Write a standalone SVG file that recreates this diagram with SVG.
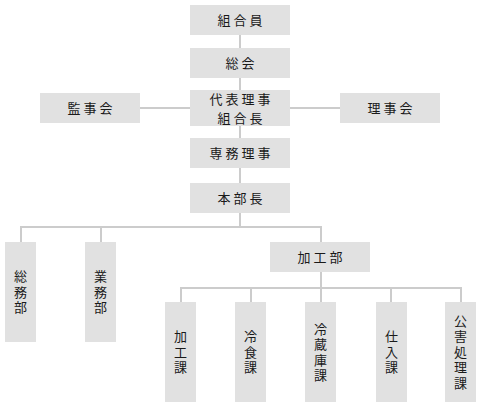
<svg xmlns="http://www.w3.org/2000/svg" width="481" height="407" viewBox="0 0 481 407">
<style>
  .box { fill: #e1e1e1; }
  .lbl { font-family: "Noto Sans CJK JP", "Noto Sans CJK SC", sans-serif; font-size: 13px; fill: #1a1a1a; }
  .h { text-anchor: middle; letter-spacing: 3px; }
  .v { text-anchor: middle; writing-mode: vertical-rl; letter-spacing: 2.5px; }
  .conn line { stroke: #cccccc; stroke-width: 2; }
</style>
<rect width="481" height="407" fill="#ffffff"/>
<g id="connectors" class="conn">
  <line x1="240" y1="35" x2="240" y2="48"/>
  <line x1="240" y1="78" x2="240" y2="90"/>
  <line x1="240" y1="126" x2="240" y2="138"/>
  <line x1="240" y1="168" x2="240" y2="183"/>
  <line x1="240" y1="213" x2="240" y2="227"/>
  <line x1="140" y1="108" x2="190" y2="108"/>
  <line x1="290" y1="108" x2="340" y2="108"/>
  <line x1="20" y1="227" x2="322" y2="227"/>
  <line x1="21" y1="226" x2="21" y2="242"/>
  <line x1="101" y1="226" x2="101" y2="242"/>
  <line x1="321" y1="226" x2="321" y2="242"/>
  <line x1="321" y1="272" x2="321" y2="288"/>
  <line x1="180" y1="288" x2="462" y2="288"/>
  <line x1="181" y1="287" x2="181" y2="302"/>
  <line x1="251" y1="287" x2="251" y2="302"/>
  <line x1="321" y1="287" x2="321" y2="302"/>
  <line x1="391" y1="287" x2="391" y2="302"/>
  <line x1="461" y1="287" x2="461" y2="302"/>
</g>
<g id="kumiaiin">
  <rect class="box" x="190" y="5" width="100" height="30"/>
  <text class="lbl h" x="241.5" y="25">組合員</text>
</g>
<g id="soukai">
  <rect class="box" x="190" y="48" width="100" height="30"/>
  <text class="lbl h" x="241.5" y="68">総会</text>
</g>
<g id="daihyou">
  <rect class="box" x="190" y="90" width="100" height="36"/>
  <text class="lbl h"><tspan x="241.5" y="104">代表理事</tspan><tspan x="241.5" y="123">組合長</tspan></text>
</g>
<g id="kanjikai">
  <rect class="box" x="40" y="93" width="100" height="30"/>
  <text class="lbl h" x="91.5" y="113">監事会</text>
</g>
<g id="rijikai">
  <rect class="box" x="340" y="93" width="100" height="30"/>
  <text class="lbl h" x="391.5" y="113">理事会</text>
</g>
<g id="senmu">
  <rect class="box" x="190" y="138" width="100" height="30"/>
  <text class="lbl h" x="241.5" y="158">専務理事</text>
</g>
<g id="honbucho">
  <rect class="box" x="190" y="183" width="100" height="30"/>
  <text class="lbl h" x="241.5" y="203">本部長</text>
</g>
<g id="soumubu">
  <rect class="box" x="5" y="242" width="31" height="100"/>
  <text class="lbl v" x="20.5" y="293.25">総務部</text>
</g>
<g id="gyoumubu">
  <rect class="box" x="85" y="242" width="31" height="100"/>
  <text class="lbl v" x="100.5" y="293.25">業務部</text>
</g>
<g id="kakoubu">
  <rect class="box" x="270" y="242" width="100" height="30"/>
  <text class="lbl h" x="321.5" y="262">加工部</text>
</g>
<g id="kakouka">
  <rect class="box" x="165" y="302" width="31" height="100"/>
  <text class="lbl v" x="180.5" y="353.25">加工課</text>
</g>
<g id="reishokuka">
  <rect class="box" x="235" y="302" width="31" height="100"/>
  <text class="lbl v" x="250.5" y="353.25">冷食課</text>
</g>
<g id="reizoukoka">
  <rect class="box" x="305" y="302" width="31" height="100"/>
  <text class="lbl v" x="320.5" y="353.25">冷蔵庫課</text>
</g>
<g id="shiireka">
  <rect class="box" x="376" y="302" width="31" height="100"/>
  <text class="lbl v" x="391.5" y="353.25">仕入課</text>
</g>
<g id="kougaishorika">
  <rect class="box" x="445" y="302" width="31" height="100"/>
  <text class="lbl v" x="460.5" y="353.25">公害処理課</text>
</g>
</svg>
